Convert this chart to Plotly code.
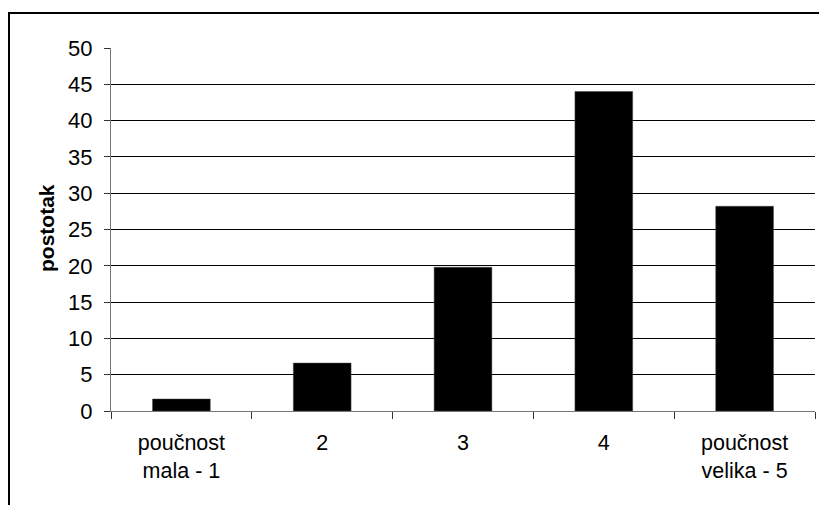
import plotly.graph_objects as go

categories = ["poučnost<br>mala - 1", "2", "3", "4", "poučnost<br>velika - 5"]
values = [1.65, 6.6, 19.8, 44.0, 28.2]
y_ticks = [0, 5, 10, 15, 20, 25, 30, 35, 40, 45, 50]
y_title = "postotak"

W, H = 819, 505
L, R, T, B = 111, 4, 48, 94
pw = W - L - R
ph = H - T - B

def px_to_paper_x(px):
    return (px - L) / pw

def py_to_paper_y(py):
    return (H - B - py) / ph

FONT = "Liberation Sans, Arial, sans-serif"

fig = go.Figure(go.Bar(
    x=categories, y=values,
    marker=dict(color="black", line=dict(color="#444", width=0.5)),
    width=0.41,
))

bx0, by_top, bx1, by_bot = px_to_paper_x(9), py_to_paper_y(13), px_to_paper_x(819), py_to_paper_y(505)
border_path = f"M {bx0},{by_bot} L {bx0},{by_top} L {bx1},{by_top}"

fig.update_layout(
    width=W, height=H,
    margin=dict(l=L, r=R, t=T, b=B, autoexpand=False),
    paper_bgcolor="white", plot_bgcolor="white",
    showlegend=False,
    font=dict(family=FONT, size=22, color="black"),
    xaxis=dict(
        type="category",
        showline=True, linecolor="#777", linewidth=1,
        ticks="outside", tickson="boundaries", ticklen=7, tickcolor="#333",
        showgrid=False, zeroline=False,
        tickfont=dict(family=FONT, size=21.5, color="black"),
        ticklabelstandoff=12,
        fixedrange=True,
    ),
    yaxis=dict(
        range=[0, 50], tickvals=y_ticks,
        showline=True, linecolor="#777", linewidth=1,
        ticks="outside", ticklen=6, tickcolor="#333",
        showgrid=True, gridcolor="black", gridwidth=1,
        zeroline=False,
        tickfont=dict(family=FONT, size=22, color="black"),
        ticklabelstandoff=7,
        fixedrange=True,
    ),
    annotations=[dict(
        text="<b>" + y_title + "</b>", textangle=-90,
        xref="paper", yref="paper",
        x=px_to_paper_x(46), y=py_to_paper_y(228),
        xanchor="center", yanchor="middle", showarrow=False,
        font=dict(family=FONT, size=21, color="black"),
    )],
    shapes=[
        dict(type="path", xref="paper", yref="paper", path=border_path,
             fillcolor="rgba(0,0,0,0)",
             line=dict(color="black", width=2)),
    ],
)

fig.write_html(
    "out.html",
    config=dict(displayModeBar=False),
    post_script="document.body.style.margin='0';document.body.style.overflow='hidden';",
)
